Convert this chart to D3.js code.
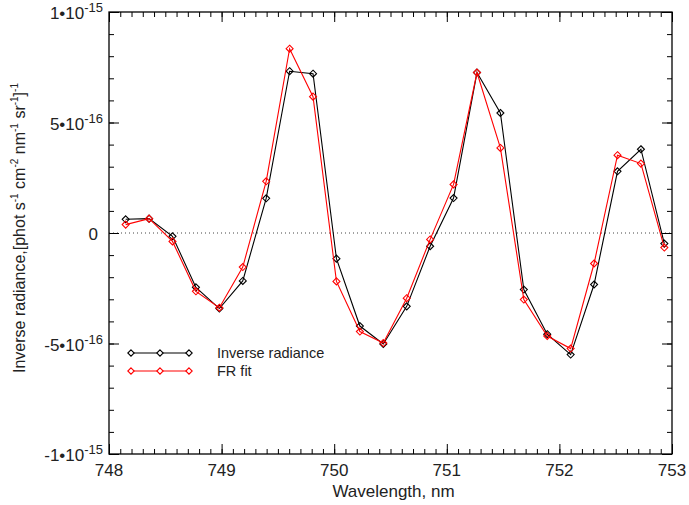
<!DOCTYPE html>
<html><head><meta charset="utf-8">
<script src="https://cdn.jsdelivr.net/npm/d3@7"></script>
<style>body{margin:0;background:#fff}svg{display:block;font-family:"Liberation Sans",Arial,Helvetica,sans-serif}</style>
</head><body>
<script>
const wavelength = [748.148,748.356,748.564,748.772,748.980,749.188,749.396,749.604,749.812,750.020,750.228,750.436,750.644,750.852,751.060,751.268,751.476,751.684,751.892,752.100,752.308,752.516,752.724,752.932];
const inverseRadiance = [0.62,0.65,-0.15,-2.46,-3.42,-2.17,1.57,7.32,7.21,-1.16,-4.21,-5.02,-3.32,-0.60,1.58,7.26,5.43,-2.56,-4.58,-5.50,-2.33,2.79,3.79,-0.48].map(v=>v*1e-16);
const frFit = [0.38,0.65,-0.38,-2.64,-3.38,-1.54,2.34,8.34,6.17,-2.19,-4.46,-4.98,-2.95,-0.29,2.20,7.26,3.85,-3.01,-4.66,-5.23,-1.38,3.52,3.14,-0.66].map(v=>v*1e-16);
const xTicks = [748,749,750,751,752,753];
const yTicks = [
  {v:1e-15, base:"1•10", exp:"-15"},
  {v:5e-16, base:"5•10", exp:"-16"},
  {v:0, base:"0", exp:""},
  {v:-5e-16, base:"-5•10", exp:"-16"},
  {v:-1e-15, base:"-1•10", exp:"-15"}
];
const seriesNames = ["Inverse radiance","FR fit"];
const seriesColors = ["#000000","#ff0000"];

const W=689,H=505;
const L=109,R=672,T=12,B=454;
const svg=d3.select("body").append("svg").attr("width",W).attr("height",H);
const x=d3.scaleLinear().domain([748,753]).range([L,R]);
const y=d3.scaleLinear().domain([-1e-15,1e-15]).range([B,T]);

// zero dotted line
svg.append("line").attr("x1",L).attr("x2",R).attr("y1",y(0)).attr("y2",y(0))
  .attr("stroke","#444").attr("stroke-width",1).attr("stroke-dasharray","1,3");

// axes with inward ticks
const minorX=d3.range(0,51).map(i=>748+i*0.1);
const minorY=d3.range(-10,11).map(i=>i*1e-16);
function tickG(axisFn, transform){
  const g=svg.append("g").attr("transform",transform).call(axisFn);
  g.selectAll("text").remove();
  g.select(".domain").remove();
  g.selectAll("line").attr("stroke","#000").attr("stroke-width",1);
  return g;
}
tickG(d3.axisTop(x).tickValues(minorX).tickSize(5),`translate(0,${B})`);
tickG(d3.axisTop(x).tickValues(xTicks).tickSize(10),`translate(0,${B})`);
tickG(d3.axisBottom(x).tickValues(minorX).tickSize(5),`translate(0,${T})`);
tickG(d3.axisBottom(x).tickValues(xTicks).tickSize(10),`translate(0,${T})`);
tickG(d3.axisRight(y).tickValues(minorY).tickSize(5),`translate(${L},0)`);
tickG(d3.axisRight(y).tickValues(yTicks.map(d=>d.v)).tickSize(10),`translate(${L},0)`);
tickG(d3.axisLeft(y).tickValues(minorY).tickSize(5),`translate(${R},0)`);
tickG(d3.axisLeft(y).tickValues(yTicks.map(d=>d.v)).tickSize(10),`translate(${R},0)`);
svg.append("rect").attr("x",L).attr("y",T).attr("width",R-L).attr("height",B-T)
  .attr("fill","none").attr("stroke","#000").attr("stroke-width",1.3);

// x tick labels
svg.append("g").selectAll("text").data(xTicks).join("text")
  .attr("x",d=>x(d)).attr("y",B+22).attr("text-anchor","middle")
  .attr("font-size",17).attr("fill","#222").text(d=>d);
// y tick labels
const yl=svg.append("g").selectAll("text").data(yTicks).join("text")
  .attr("x",d=>d.exp?L-6:L-11).attr("y",d=>y(d.v)+7).attr("text-anchor","end")
  .attr("font-size",17).attr("fill","#222");
yl.append("tspan").text(d=>d.base);
yl.filter(d=>d.exp).append("tspan").attr("dy",-7).attr("font-size",13).text(d=>d.exp);

// axis titles
svg.append("text").attr("x",(L+R)/2+3).attr("y",B+43).attr("text-anchor","middle")
  .attr("font-size",17).attr("fill","#222").text("Wavelength, nm");
const yt=svg.append("text").attr("transform",`translate(25,228) rotate(-90)`)
  .attr("text-anchor","middle").attr("font-size",16).attr("fill","#222");
const parts=[["Inverse radiance,[phot s",""],["-1","s"],[" cm",""],["-2","s"],[" nm",""],["-1","s"],[" sr",""],["-1","s"],["]",""],["-1","s"]];
let sup=false;
parts.forEach(([t,k])=>{
  const ts=yt.append("tspan").text(t);
  if(k==="s"&&!sup){ts.attr("dy",-7).attr("font-size",10);sup=true;}
  else if(k==="s"&&sup){ts.attr("font-size",10);}
  else if(k!=="s"&&sup){ts.attr("dy",7);sup=false;}
});

// series
const data=[inverseRadiance,frFit];
const line=d3.line().x((d,i)=>x(wavelength[i])).y(d=>y(d));
const diamond=(cx,cy,r)=>`M${cx},${cy-r}L${cx+r},${cy}L${cx},${cy+r}L${cx-r},${cy}Z`;
data.forEach((vals,si)=>{
  svg.append("path").datum(vals).attr("d",line).attr("fill","none")
    .attr("stroke",seriesColors[si]).attr("stroke-width",1.1);
  svg.append("g").selectAll("path").data(vals).join("path")
    .attr("d",(d,i)=>diamond(x(wavelength[i]),y(d),3.5))
    .attr("fill","none").attr("stroke",seriesColors[si]).attr("stroke-width",1.1);
});

// legend
seriesNames.forEach((name,si)=>{
  const ly=353+si*18;
  const xs=[131,160,189];
  svg.append("line").attr("x1",xs[0]).attr("x2",xs[2]).attr("y1",ly).attr("y2",ly)
    .attr("stroke",seriesColors[si]).attr("stroke-width",1.1);
  xs.forEach(px=>svg.append("path").attr("d",diamond(px,ly,3.2)).attr("fill","#fff")
    .attr("stroke",seriesColors[si]).attr("stroke-width",1.1));
  svg.append("text").attr("x",217).attr("y",ly+5).attr("font-size",14.5).attr("fill","#222").text(name);
});
</script>
</body></html>
